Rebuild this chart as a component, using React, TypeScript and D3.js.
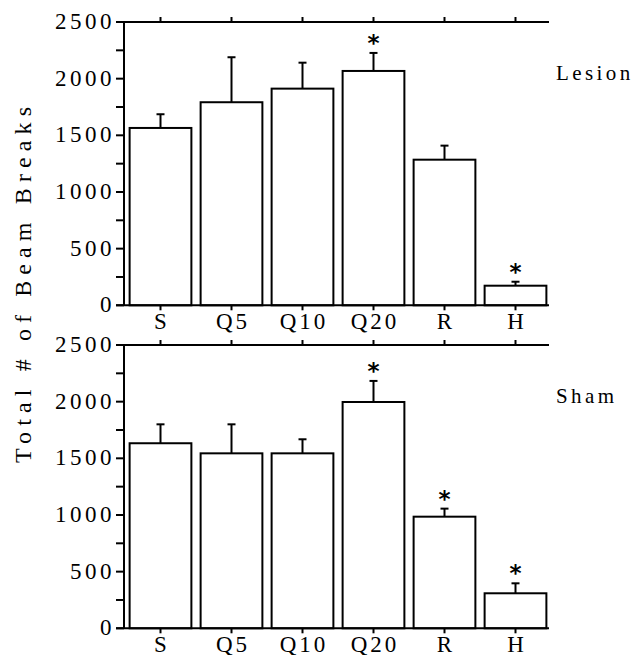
import React, { useEffect, useRef } from "react";
import * as d3 from "d3";

const categories = ["S", "Q5", "Q10", "Q20", "R", "H"];
const lesionMeans = [1565, 1792, 1912, 2068, 1285, 173];
const lesionErr = [1686, 2189, 2141, 2227, 1409, 208];
const lesionStars = [false, false, false, true, false, true];
const shamMeans = [1633, 1544, 1544, 1997, 985, 309];
const shamErr = [1800, 1800, 1668, 2183, 1056, 397];
const shamStars = [false, false, false, true, true, true];
const yTicks = [0, 500, 1000, 1500, 2000, 2500];
const yMinorTicks = [250, 750, 1250, 1750, 2250];

const FONT = "'Liberation Serif', 'Times New Roman', serif";

export default function App() {
  const ref = useRef<SVGSVGElement>(null);

  useEffect(() => {
    const svg = d3.select(ref.current);
    svg.selectAll("*").remove();

    const x = d3
      .scaleBand()
      .domain(categories)
      .range([125, 551])
      .paddingInner(0.13)
      .paddingOuter(0.065);
    const axisX = 124;
    const axisEnd = 549;

    const drawPanel = (
      top: number,
      bottom: number,
      means: number[],
      errs: number[],
      stars: boolean[],
      label: string,
      labelY: number
    ) => {
      const y = d3.scaleLinear().domain([0, 2500]).range([bottom, top]);
      const g = svg.append("g");

      // bars
      g.selectAll("rect.bar")
        .data(means)
        .join("rect")
        .attr("x", (_, i) => x(categories[i])!)
        .attr("y", (d) => y(d))
        .attr("width", x.bandwidth())
        .attr("height", (d) => bottom - y(d))
        .attr("fill", "#fff")
        .attr("stroke", "#000")
        .attr("stroke-width", 2);

      // error bars
      const cx = (i: number) => x(categories[i])! + x.bandwidth() / 2;
      errs.forEach((e, i) => {
        g.append("line")
          .attr("x1", cx(i)).attr("x2", cx(i))
          .attr("y1", y(means[i])).attr("y2", y(e))
          .attr("stroke", "#000").attr("stroke-width", 2);
        g.append("line")
          .attr("x1", cx(i) - 4).attr("x2", cx(i) + 4)
          .attr("y1", y(e)).attr("y2", y(e))
          .attr("stroke", "#000").attr("stroke-width", 2);
        if (stars[i]) {
          g.append("text")
            .attr("x", cx(i))
            .attr("y", y(e) - 2)
            .attr("text-anchor", "middle")
            .attr("font-family", "'DejaVu Sans', sans-serif")
            .attr("font-weight", "bold")
            .attr("font-size", 23)
            .text("*");
        }
      });

      // y axis
      g.append("line")
        .attr("x1", axisX).attr("x2", axisX)
        .attr("y1", top).attr("y2", bottom)
        .attr("stroke", "#000").attr("stroke-width", 2);
      [...yTicks, ...yMinorTicks].forEach((t) => {
        g.append("line")
          .attr("x1", axisX - 8).attr("x2", axisX)
          .attr("y1", y(t)).attr("y2", y(t))
          .attr("stroke", "#000").attr("stroke-width", 2);
      });
      yTicks.forEach((t) => {
        g.append("text")
          .attr("x", axisX - 9)
          .attr("y", y(t) + 7)
          .attr("text-anchor", "end")
          .attr("font-family", FONT)
          .attr("font-size", 23)
          .attr("letter-spacing", 3.5)
          .text(t);
      });

      // top and bottom horizontal lines with category ticks
      g.append("line")
        .attr("x1", axisX - 8).attr("x2", axisEnd)
        .attr("y1", top).attr("y2", top)
        .attr("stroke", "#000").attr("stroke-width", 2);
      g.append("line")
        .attr("x1", axisX - 8).attr("x2", axisEnd)
        .attr("y1", bottom).attr("y2", bottom)
        .attr("stroke", "#000").attr("stroke-width", 2);
      categories.forEach((c, i) => {
        g.append("line")
          .attr("x1", cx(i)).attr("x2", cx(i))
          .attr("y1", top - 5).attr("y2", top)
          .attr("stroke", "#000").attr("stroke-width", 2);
        g.append("line")
          .attr("x1", cx(i)).attr("x2", cx(i))
          .attr("y1", bottom).attr("y2", bottom + 5)
          .attr("stroke", "#000").attr("stroke-width", 2);
        g.append("text")
          .attr("x", cx(i) + 1.5)
          .attr("y", bottom + 24)
          .attr("text-anchor", "middle")
          .attr("font-family", FONT)
          .attr("font-size", 23)
          .attr("letter-spacing", 3)
          .text(c);
      });

      g.append("text")
        .attr("x", 556)
        .attr("y", labelY)
        .attr("font-family", FONT)
        .attr("font-size", 21)
        .attr("letter-spacing", 3.4)
        .text(label);
    };

    drawPanel(22, 305.3, lesionMeans, lesionErr, lesionStars, "Lesion", 80);
    drawPanel(345, 628.3, shamMeans, shamErr, shamStars, "Sham", 403);

    svg.append("text")
      .attr("transform", "translate(31,285) rotate(-90)")
      .attr("text-anchor", "middle")
      .attr("font-family", FONT)
      .attr("font-size", 24)
      .attr("textLength", 356)
      .attr("lengthAdjust", "spacing")
      .text("Total # of Beam Breaks");
  }, []);

  return (
    <svg
      ref={ref}
      width={635}
      height={655}
      style={{ position: "absolute", left: 0, top: 0, background: "#fff" }}
    />
  );
}
